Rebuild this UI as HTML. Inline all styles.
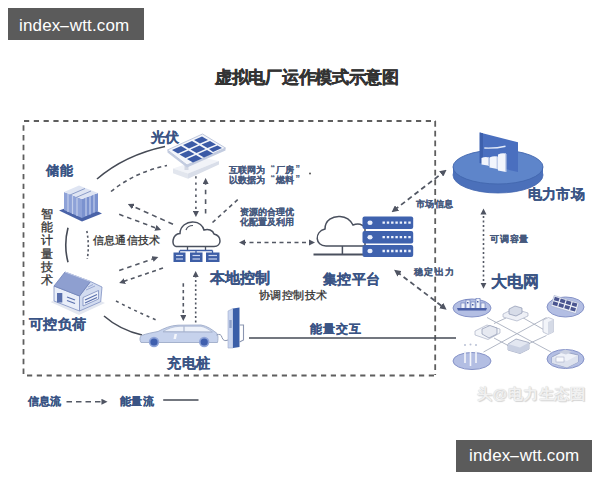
<!DOCTYPE html>
<html><head><meta charset="utf-8">
<style>
html,body{margin:0;padding:0;background:#fff;}
body{width:600px;height:480px;position:relative;overflow:hidden;font-family:"Liberation Sans",sans-serif;}
.t{position:absolute;white-space:nowrap;line-height:1;}
.b{font-weight:bold;color:#3a5485;-webkit-text-stroke:0.18px #3a5485;}
.g{color:#333;-webkit-text-stroke:0.3px #333;}
.s{color:#46597d;font-weight:bold;-webkit-text-stroke:0.12px #46597d;}
.wm{position:absolute;background:#5b5b5b;color:#fff;font-size:17px;line-height:32px;height:32px;width:136px;}
.wm span{position:absolute;top:0;}
svg{position:absolute;left:0;top:0;}
</style></head>
<body>
<svg width="600" height="480" viewBox="0 0 600 480">
<defs>
  <marker id="ah" viewBox="0 0 10 10" refX="5" refY="5" markerWidth="3.8" markerHeight="3.8" orient="auto-start-reverse"><path d="M0,0 L10,5 L0,10 z" fill="#4f5462"/></marker>
</defs>
<!-- dashed frame -->
<g fill="none" stroke="#5e5e5e" stroke-width="1.8">
<path d="M24,121 H436" stroke-dasharray="5.2 4.6"/>
<path d="M27,375.5 H436" stroke-dasharray="5.2 4.6"/>
<path d="M23.5,125.3 V375" stroke-dasharray="5.4 4.33"/>
<path d="M435.2,121 V375" stroke-dasharray="5.8 3.93"/>
</g>

<!-- ===== lines ===== -->
<g fill="none" stroke="#454a55" stroke-width="1.6">
  <!-- solid arcs -->
  <path d="M97,179 Q125,155 165,146.5"/>
  <path d="M68,227.8 Q63.5,245 68,262.2"/>
  <path d="M104,316 Q120,330 142,335"/>
  <line x1="249" y1="338" x2="456" y2="338"/>
  <line x1="163.2" y1="400" x2="198.5" y2="400"/>
</g>
<g fill="none" stroke="#535864" stroke-width="1.6" stroke-dasharray="4 3.5">
  <path d="M111,191.5 Q135,172 167,165.5"/>
  <path d="M86.8,231 Q89.5,245 87.3,259" stroke-dasharray="2.2 2.4"/>
  <path d="M173,224.3 L130.6,205.3" marker-end="url(#ah)" stroke-dasharray="5 4"/>
  <path d="M119.2,214.3 L158.3,229" marker-end="url(#ah)" stroke-dasharray="4.5 4"/>
  <path d="M119.2,270.5 L155.5,258" marker-end="url(#ah)" stroke-dasharray="4.5 4"/>
  <path d="M163,268 L122,282" marker-end="url(#ah)"/>
  <path d="M116,301 Q136,311.5 157,320.3" stroke-dasharray="3 3.8"/>
  <path d="M183.3,283.3 L183.3,318" marker-end="url(#ah)" stroke-dasharray="3.4 3.2"/>
  <path d="M195.7,322.5 L195.7,274" marker-end="url(#ah)" stroke-dasharray="2 2.5"/>
  <path d="M195.9,176.3 L195.9,214" marker-end="url(#ah)" stroke-dasharray="2.3 3.8"/>
  <path d="M205.6,213.5 L205.6,181" marker-end="url(#ah)" stroke-dasharray="4.6 5"/>
  <path d="M212.5,222.5 L239,198.5"/>
  <path d="M242,242.5 L312,242.5" marker-start="url(#ah)" marker-end="url(#ah)"/>
  <path d="M394.3,210.1 L443.9,171.8" marker-start="url(#ah)" marker-end="url(#ah)" stroke-width="1.8" stroke-dasharray="5 3.5"/>
  <path d="M396.8,271.8 L443.9,307.6" marker-start="url(#ah)" marker-end="url(#ah)" stroke-width="1.8" stroke-dasharray="5 3.5"/>
  <path d="M483.5,211.5 L483.5,285.75" marker-start="url(#ah)" marker-end="url(#ah)" stroke-dasharray="2 2.5"/>
  <path d="M66.5,401.8 L104.5,401.8" marker-end="url(#ah)" stroke-dasharray="5.5 4"/>
</g>

<!-- ===== solar panel ===== -->
<g>
  <polygon points="173,168.5 204,158 219,161 188,173.5" fill="#f1f3f8"/>
  <polygon points="173,168.5 188,173.5 188,178.7 173,173.3" fill="#e2e6ee"/>
  <polygon points="188,173.5 219,161 219,164.5 188,178.7" fill="#d9dee9"/>
  <rect x="184.5" y="163" width="4" height="7" fill="#d3d8e4"/>
  <polygon points="167.5,150 187,165 225.5,148 225.5,150.5 187,167.5 167.5,152.5" fill="#c3cce0"/>
  <polygon points="167.5,150 202.5,134 225.5,148 187,165" fill="#f4f6fb" stroke="#bfc8dd" stroke-width="1"/>
  <g fill="#3b5aa6">
    <polygon points="172,150 181,146 187,149.5 178,153.5"/>
    <polygon points="183,145 192,141 198,144.5 189,148.5"/>
    <polygon points="194,140 202,136.5 208,140 200,143.5"/>
    <polygon points="179.5,154.5 188.5,150.5 194.5,154 185.5,158"/>
    <polygon points="190.5,149.5 199.5,145.5 205.5,149 196.5,153"/>
    <polygon points="201.5,144.5 210,141 216,144.5 207.5,148"/>
    <polygon points="187,159 196,155 202,158.5 193,162.5"/>
    <polygon points="198,154 207,150 213,153.5 204,157.5"/>
    <polygon points="209,149 217.5,145.5 222,148 213,152"/>
  </g>
</g>

<!-- ===== battery storage ===== -->
<g>
  <polygon points="59,210.5 80,203 102,213.5 82,221.5" fill="#4a63a8"/>
  <polygon points="64,192 82,199 82,218 64,210" fill="#8ea2d8"/>
  <polygon points="82,199 98,193 98,211 82,218" fill="#7b92cf"/>
  <polygon points="64,192 79,185.5 98,193 82,199" fill="#dfe5f3"/>
  <g stroke="#c2cdeb" stroke-width="1.2">
    <line x1="68" y1="194" x2="68" y2="212"/><line x1="72.5" y1="196" x2="72.5" y2="214"/><line x1="77" y1="197.5" x2="77" y2="216"/>
    <line x1="86" y1="197.5" x2="86" y2="216"/><line x1="90" y1="196" x2="90" y2="214.5"/><line x1="94" y1="194.5" x2="94" y2="212.5"/>
  </g>
  <g stroke="#8b9cc8" stroke-width="1">
    <line x1="70" y1="195" x2="85" y2="188.5"/><line x1="76" y1="197.5" x2="91" y2="191"/>
  </g>
</g>

<!-- ===== house ===== -->
<g>
  <polygon points="50.5,302 79,315 105,303 79,291" fill="#e3e7f0"/>
  <polygon points="54,286 79.5,296 79.5,311 54,301" fill="#e9eef9" stroke="#7d8fc2" stroke-width="0.8"/>
  <polygon points="79.5,296 90.5,281.5 102,287 100.7,301.7 79.5,311" fill="#d3dcf0" stroke="#7d8fc2" stroke-width="0.8"/>
  <polygon points="65,272 54,286 79.5,296 90.5,281.5" fill="#8e9fd0" stroke="#6f81b8" stroke-width="0.8"/>
  <line x1="65" y1="272" x2="90.5" y2="281.5" stroke="#c5cfea" stroke-width="1"/>
  <rect x="57" y="293" width="5.3" height="9.5" fill="#5a70ad"/>
  <polygon points="83,297.5 98.5,290.5 98.5,299 83,306" fill="#eef2fb" stroke="#6f81b8" stroke-width="0.7"/>
  <g stroke="#5a70ad" stroke-width="1.3"><line x1="67" y1="297" x2="75" y2="300"/><line x1="67" y1="300.5" x2="75" y2="303.5"/>
  <line x1="85" y1="300" x2="97" y2="294.5"/><line x1="85" y1="303" x2="97" y2="297.5"/></g>
  <g stroke="#8a9acb" stroke-width="0.8"><line x1="86" y1="290" x2="95" y2="286"/><line x1="88" y1="287" x2="93" y2="284.5"/></g>
</g>

<!-- ===== local control cloud ===== -->
<g>
  <path d="M176,246.5 C171,246 172,234 180,233.5 C180,226 187,221.5 193.5,222 C199,222 203,226 204,230 C208,228.5 213,230 214,234 C222,236 222,246.5 214,246.5 Z" fill="#fff" stroke="#4a505e" stroke-width="1.5"/>
  <path d="M186,230 C187,227 190,225.5 193,225.5" fill="none" stroke="#4a505e" stroke-width="1.2"/>
  <g stroke="#4a505e" stroke-width="1.3"><line x1="187.5" y1="246.5" x2="187.5" y2="250.5"/><line x1="205.5" y1="246.5" x2="205.5" y2="250.5"/>
  <line x1="180" y1="250.5" x2="212.5" y2="250.5" stroke="#3d5ea6"/>
  <line x1="179.5" y1="250.5" x2="179.5" y2="253" stroke="#3d5ea6"/><line x1="196" y1="250.5" x2="196" y2="253" stroke="#3d5ea6"/><line x1="212.5" y1="250.5" x2="212.5" y2="253" stroke="#3d5ea6"/></g>
  <g fill="#3d5ea6"><rect x="173.5" y="252.5" width="12" height="9.5"/><rect x="190" y="252.5" width="12.5" height="9.5"/><rect x="206" y="252.5" width="13.5" height="9.5"/></g>
  <g stroke="#cdd8f0" stroke-width="1.2"><line x1="176" y1="255.5" x2="183" y2="255.5"/><line x1="176" y1="259" x2="183" y2="259"/>
  <line x1="192.5" y1="255.5" x2="200" y2="255.5"/><line x1="192.5" y1="259" x2="200" y2="259"/>
  <line x1="208.5" y1="255.5" x2="217" y2="255.5"/><line x1="208.5" y1="259" x2="217" y2="259"/></g>
</g>

<!-- ===== central platform cloud + servers ===== -->
<g>
  <path d="M326,246 C315,246 314,232 325,229 C325,220 333,216 340,216.5 C347,217 351,221 353,225 C358,223 363,224 365,228 L365,246 Z" fill="#fff" stroke="#4a505e" stroke-width="1.5"/>
  <line x1="342.4" y1="246" x2="342.4" y2="254" stroke="#4a505e" stroke-width="1.5"/>
  <line x1="313.5" y1="254.5" x2="363" y2="254.5" stroke="#4a505e" stroke-width="2"/>
  <g fill="#3f62ae">
    <rect x="362.5" y="216.5" width="50.7" height="12.5" rx="2"/>
    <rect x="362.5" y="231" width="50.7" height="12.5" rx="2"/>
    <rect x="362.5" y="245" width="50.7" height="12" rx="2"/>
  </g>
  <g fill="#e8eefc">
    <ellipse cx="370" cy="222.7" rx="2.6" ry="2.2"/><ellipse cx="370" cy="237.2" rx="2.6" ry="2.2"/><ellipse cx="370" cy="251" rx="2.6" ry="2.2"/>
  </g>
  <g stroke="#eef3fe" stroke-width="2.3" stroke-dasharray="2.4 1.9">
    <line x1="382.5" y1="222.7" x2="411" y2="222.7"/><line x1="382.5" y1="237.2" x2="411" y2="237.2"/><line x1="382.5" y1="251" x2="411" y2="251"/>
  </g>
</g>

<!-- ===== electricity market ===== -->
<g>
  <ellipse cx="498" cy="175" rx="45" ry="18" fill="#4b70ba" stroke="#4266ae" stroke-width="0.8"/>
  <rect x="453" y="167" width="90" height="8" fill="#4b70ba"/>
  <ellipse cx="498" cy="167" rx="45" ry="17" fill="#5e85ca" stroke="#4266ae" stroke-width="0.9"/>
  <polygon points="479.7,132.4 518,142.2 518,172 479.7,163" fill="#4a6fbf"/>
  <polygon points="479.7,132.4 483,133.2 483,163.5 479.7,163" fill="#3d60ad"/>
  <path d="M484.3,148 Q496,148.5 505.5,146.2" stroke="#e4ebfa" stroke-width="1.4" fill="none"/>
  <g fill="#f2f5fc">
    <path d="M481.5,158 Q485,156.5 489,157.5 L489,165.7 L481.5,164.5 Z"/>
    <path d="M489.5,157.5 Q493.5,155.5 497.5,156.5 L497.5,169 L489.5,167.5 Z"/>
    <path d="M498,154.5 Q502,152.5 506,153.6 L506,172 L498,170.5 Z"/>
  </g>
  <g fill="#c3cfea"><polygon points="488,157.5 489.5,158 489.5,166 488,165.7"/><polygon points="496.5,156.5 498,157 498,169.5 496.5,169"/><polygon points="505,153.6 506.5,154 506.5,172 505,172"/></g>
</g>

<!-- ===== grid network ===== -->
<g>
  <g stroke="#a9b0c0" stroke-width="0.9" fill="none">
    <line x1="487" y1="317.5" x2="551" y2="352"/>
    <line x1="483.5" y1="352" x2="546.5" y2="317.5"/>
    <line x1="494" y1="323.5" x2="506" y2="318"/>
    <line x1="522.5" y1="317.5" x2="543.5" y2="329.5"/>
    <line x1="527" y1="344.5" x2="546.5" y2="335.5"/>
    <line x1="494" y1="338" x2="509" y2="346"/>
  </g>
  <ellipse cx="472" cy="308" rx="19" ry="9" fill="#b3bee3" stroke="#8693c8" stroke-width="1"/>
  <ellipse cx="565.5" cy="307" rx="18.5" ry="10" fill="#b3bee3" stroke="#8693c8" stroke-width="1"/>
  <ellipse cx="472" cy="361" rx="19" ry="8.5" fill="#b3bee3" stroke="#8693c8" stroke-width="1"/>
  <ellipse cx="565.5" cy="359" rx="18.5" ry="9.5" fill="#b3bee3" stroke="#8693c8" stroke-width="1"/>
  <!-- city skyline -->
  <g fill="#eef1fa" stroke="#6275b5" stroke-width="0.6">
    <rect x="461" y="303" width="4" height="6"/><rect x="466" y="300" width="4" height="9"/><rect x="471" y="302" width="4" height="7"/>
    <rect x="476" y="298.5" width="4" height="10.5"/><rect x="481" y="303" width="4" height="6"/>
  </g>
  <path d="M457,308 L487,308 L486,310.5 L458,310.5 Z" fill="#4a5fa8"/>
  <g fill="#4a5fa8"><rect x="467" y="302" width="1.5" height="1.5"/><rect x="477" y="301" width="1.5" height="1.5"/><rect x="472" y="304" width="1.5" height="1.5"/></g>
  <!-- solar panels -->
  <g transform="rotate(17 565 304.5)"><rect x="552" y="299" width="26" height="11" fill="#eef1f8" stroke="#9aa5c8" stroke-width="0.5"/><g fill="#4a5590"><rect x="553.0" y="300.0" width="5" height="3.6"/><rect x="559.2" y="300.0" width="5" height="3.6"/><rect x="565.4" y="300.0" width="5" height="3.6"/><rect x="571.6" y="300.0" width="5" height="3.6"/><rect x="553.0" y="304.8" width="5" height="3.6"/><rect x="559.2" y="304.8" width="5" height="3.6"/><rect x="565.4" y="304.8" width="5" height="3.6"/><rect x="571.6" y="304.8" width="5" height="3.6"/></g></g>
  <!-- wind poles -->
  <g stroke="#f4f6fb" stroke-width="1.6"><line x1="465" y1="351" x2="465" y2="363"/><line x1="470.5" y1="352" x2="470.5" y2="366"/><line x1="476" y1="351" x2="476" y2="363"/></g>
  <g fill="#b9c0d4"><circle cx="465" cy="345" r="1"/><circle cx="470.5" cy="344.5" r="1"/><circle cx="476" cy="345" r="1"/></g>
  <!-- factory -->
  <polygon points="552,357 563,351.5 578,355 578,362 567,367.5 552,363" fill="#eef1f8" stroke="#8590b4" stroke-width="0.7"/>
  <polygon points="552,357 567,361 578,355 578,362 567,367.5 552,363" fill="#dde2ee"/>
  <rect x="556" y="357" width="8" height="5" fill="#f9fafd" stroke="#9aa3c0" stroke-width="0.5"/>
  <polygon points="559,352.5 565,349.5 572,351.5 566,354.5" fill="#c9cfe0"/>
  <!-- small equipment -->
  <polygon points="503,314 514,308.5 528,313 528,316 517,321 503,317" fill="#eef0f6" stroke="#9ea6bd" stroke-width="0.6"/>
  <polygon points="509,309 515,306 522,308 522,313 516,316 509,314" fill="#d7dce8" stroke="#7c86a5" stroke-width="0.6"/>
  <polygon points="475,331 487,325 500,329 500,333 488,339.5 475,335" fill="#f3f5f9" stroke="#9ea6bd" stroke-width="0.6"/>
  <polygon points="482,329 490,325.5 497,328 497,334 489,338 482,334" fill="#e6e9f1" stroke="#7c86a5" stroke-width="0.6"/>
  <polygon points="508,344 516,339 529,342.5 529,349 520,353.5 508,350" fill="#e3e7f1" stroke="#7c86a5" stroke-width="0.6"/>
  <polygon points="508,344 520,347.5 529,342.5 529,349 520,353.5 508,350" fill="#c9d0e2"/>
  <polygon points="543,320 548.5,317.5 553.5,319.5 553.5,332 548,334.5 543,332" fill="#f2f4f9" stroke="#a2aac0" stroke-width="0.6"/>
  <polygon points="548,322 553.5,319.5 553.5,332 548,334.5" fill="#d5dae6"/>
</g>

<!-- ===== car + charging pile ===== -->
<g>
  <path d="M141,342.5 C139.5,340 139.5,337 141.5,335.5 C147,333.5 153,332.5 158,331.5 C164,328.5 170,325.5 178,325.2 L201,325 C207,326 212,329.5 215,332 C218,333 218.5,337 217.5,342.5 Z" fill="#c6d2ec" stroke="#9eabc8" stroke-width="0.9"/>
  <path d="M163,331.5 C168,328.5 173,326.5 180,326.3 L201,326.3 C205,327 209,329.5 212,332 Z" fill="#eef2fa" stroke="#9eabc8" stroke-width="0.6"/>
  <line x1="184" y1="326.3" x2="184" y2="332" stroke="#9eabc8" stroke-width="1"/>
  <line x1="163" y1="332" x2="213" y2="332" stroke="#a9b5d0" stroke-width="0.8"/>
  <polygon points="174.5,334 177,334 176,339 173.5,339" fill="#f4f6fb"/>
  <circle cx="154" cy="342" r="5.2" fill="#8ea3d8"/>
  <circle cx="154" cy="342" r="3.6" fill="#3f5fae"/>
  <circle cx="204.2" cy="342" r="5.2" fill="#8ea3d8"/>
  <circle cx="204.2" cy="342" r="3.6" fill="#3f5fae"/>
  <path d="M216.5,335 Q221,333 222,337.5 Q223.5,342 228,340" fill="none" stroke="#8a95b0" stroke-width="1"/>
  <polygon points="228,311 233,308.5 233,348 228,348" fill="#c9d5ef" stroke="#9fadcc" stroke-width="0.6"/>
  <polygon points="233,308.5 239.5,307.5 239.5,347 233,348" fill="#3a5ea8"/>
  <rect x="229.3" y="320" width="2.4" height="8" fill="#8fa0c8"/>
  <path d="M239.5,325 L243.5,325 L243.5,340 L239.5,342" fill="none" stroke="#8a95b0" stroke-width="1.1"/>
</g>

<circle cx="310" cy="173.5" r="1" fill="#555"/>
<!-- watermark bottom right -->
</svg>

<div class="t" id="title" style="left:215px;top:69.5px;font-size:16.7px;font-weight:bold;color:#333;-webkit-text-stroke:0.45px #333;letter-spacing:-0.3px;">虚拟电厂运作模式示意图</div>

<div class="t b" style="left:151px;top:130px;font-size:14px;">光伏</div>
<div class="t b" style="left:46px;top:164px;font-size:13px;letter-spacing:1px;">储能</div>
<div class="t b" style="left:29px;top:317.5px;font-size:13.8px;letter-spacing:0.35px;">可控负荷</div>
<div class="t b" style="left:210px;top:271px;font-size:14.9px;letter-spacing:-0.05px;">本地控制</div>
<div class="t b" style="left:323px;top:272px;font-size:14.2px;letter-spacing:0.35px;">集控平台</div>
<div class="t b" style="left:167px;top:356.5px;font-size:13.9px;letter-spacing:0.5px;">充电桩</div>
<div class="t b" style="left:527.5px;top:186.5px;font-size:14px;letter-spacing:0.35px;">电力市场</div>
<div class="t b" style="left:490.5px;top:273.5px;font-size:16px;">大电网</div>
<div class="t b" style="left:309.5px;top:322.5px;font-size:12.3px;letter-spacing:1px;">能量交互</div>
<div class="t b" style="left:28px;top:396px;font-size:11px;">信息流</div>
<div class="t b" style="left:120px;top:395.5px;font-size:11px;letter-spacing:0.3px;">能量流</div>

<div class="t g" style="left:40.5px;top:208px;font-size:11.5px;line-height:13.2px;width:12px;white-space:normal;">智能计量技术</div>
<div class="t g" style="left:93px;top:235px;font-size:11.1px;letter-spacing:0.2px;">信息通信技术</div>
<div class="t g" style="left:259px;top:290px;font-size:11.25px;letter-spacing:0.4px;">协调控制技术</div>

<div class="t s" style="left:229px;top:164.5px;font-size:9px;line-height:10.8px;">互联网为<br>以数据为</div>
<div class="t s" style="left:270.5px;top:162.5px;font-size:9px;line-height:10.8px;">“<br>“</div>
<div class="t s" style="left:276px;top:164.5px;font-size:9px;line-height:10.8px;">厂房<br>燃料</div>
<div class="t s" style="left:295.5px;top:162.5px;font-size:9px;line-height:10.8px;">”<br>”</div>
<div class="t s" style="left:239.5px;top:206.5px;font-size:9px;line-height:10.9px;">资源的合理优<br>化配置及利用</div>
<div class="t s" style="left:415.5px;top:199.5px;font-size:8.9px;letter-spacing:0.55px;">市场信息</div>
<div class="t s" style="left:414px;top:267.5px;font-size:9.3px;letter-spacing:1.3px;">稳定出力</div>
<div class="t s" style="left:490px;top:234.5px;font-size:9.2px;letter-spacing:0.8px;">可调容量</div>

<div class="t" style="left:477px;top:386px;font-size:15px;letter-spacing:0.5px;color:#f1f1f1;text-shadow:0 0 1px #c8c8c8,1px 1px 1px #d6d6d6;font-weight:bold;">头@电力生态圈</div>
<div class="wm" style="left:8px;top:8px;"><span style="left:11px;top:1.5px;letter-spacing:0.15px;">index<span style="position:static;display:inline-block;width:9.4px;text-align:center;transform:scaleX(2.1);">-</span>wtt.com</span></div>
<div class="wm" style="left:456px;top:440px;"><span style="left:13px;top:-0.5px;letter-spacing:0.15px;">index<span style="position:static;display:inline-block;width:9.4px;text-align:center;transform:scaleX(2.1);">-</span>wtt.com</span></div>
</body></html>
